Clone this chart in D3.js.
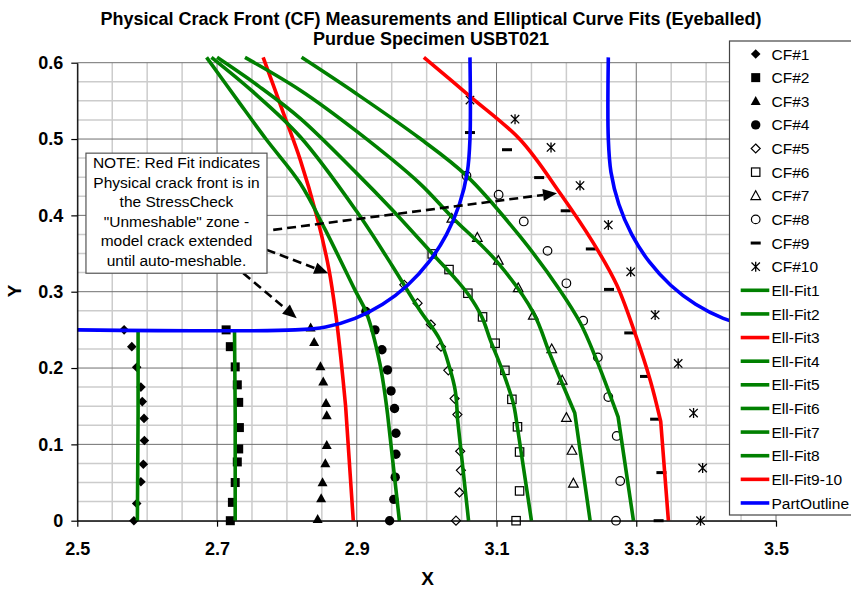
<!DOCTYPE html>
<html><head><meta charset="utf-8">
<script src="https://cdn.jsdelivr.net/npm/d3@7"></script>
<style>
body{margin:0;background:#fff}
svg{display:block}
text{font-family:Arial,"Liberation Sans",sans-serif;fill:#000}
</style>
</head><body>
<svg id="chart" width="851" height="590"></svg>
<script>
// ---------------- DATA ----------------
const titleLines = ["Physical Crack Front (CF) Measurements and Elliptical Curve Fits (Eyeballed)", "Purdue Specimen USBT021"];
const xAxisTitle = "X";
const yAxisTitle = "Y";
const xTickLabels = ["2.5","2.7","2.9","3.1","3.3","3.5"];
const yTickLabels = ["0","0.1","0.2","0.3","0.4","0.5","0.6"];

const cf1 = [[2.567,0.25],[2.578,0.228],[2.585,0.201],[2.591,0.175],[2.593,0.156],[2.5955,0.134],[2.596,0.105],[2.5945,0.074],[2.591,0.051],[2.585,0.0226],[2.581,0]];
const cf2 = [[2.713,0.25],[2.719,0.228],[2.726,0.2015],[2.729,0.178],[2.731,0.155],[2.732,0.122],[2.731,0.094],[2.729,0.077],[2.726,0.05],[2.722,0.024],[2.719,0]];
const cf3 = [[2.834,0.253],[2.839,0.234],[2.848,0.202],[2.852,0.182],[2.856,0.154],[2.857,0.138],[2.857,0.099],[2.855,0.075],[2.851,0.05],[2.849,0.029],[2.844,0.002]];
const cf4 = [[2.913,0.274],[2.926,0.25],[2.936,0.224],[2.944,0.1975],[2.949,0.17],[2.954,0.147],[2.956,0.1145],[2.956,0.087],[2.955,0.057],[2.953,0.028],[2.947,0]];
const cf5 = [[2.968,0.309],[2.987,0.285],[3.006,0.257],[3.0205,0.228],[3.031,0.197],[3.040,0.160],[3.044,0.139],[3.048,0.091],[3.049,0.066],[3.047,0.037],[3.042,0]];
const cf6 = [[3.008,0.3495],[3.032,0.329],[3.059,0.298],[3.080,0.267],[3.098,0.2325],[3.112,0.197],[3.122,0.159],[3.130,0.123],[3.133,0.090],[3.133,0.039],[3.128,0]];
const cf7 = [[3.036,0.396],[3.0725,0.371],[3.1026,0.341],[3.131,0.305],[3.1526,0.269],[3.179,0.225],[3.194,0.184],[3.200,0.135],[3.208,0.092],[3.210,0.049]];
const cf8 = [[3.057,0.452],[3.103,0.427],[3.139,0.392],[3.173,0.3535],[3.200,0.311],[3.224,0.262],[3.245,0.214],[3.260,0.162],[3.272,0.111],[3.277,0.052],[3.271,0]];
const cf9 = [[3.062,0.5085],[3.115,0.486],[3.161,0.4495],[3.199,0.406],[3.235,0.356],[3.261,0.303],[3.290,0.246],[3.3125,0.189],[3.327,0.133],[3.336,0.063],[3.332,0]];
const cf10 = [[3.062,0.551],[3.1265,0.526],[3.178,0.489],[3.2195,0.439],[3.260,0.3875],[3.292,0.326],[3.327,0.2696],[3.360,0.206],[3.382,0.141],[3.395,0.069],[3.392,0]];

const fit1 = [[2.587,0.25],[2.587,0.14],[2.586,0]];
const fit2 = [[2.725,0.25],[2.726,0.14],[2.726,0]];
const fit3 = [[2.766,0.607],[2.795,0.534],[2.819,0.473],[2.843,0.398],[2.860,0.33],[2.870,0.27],[2.878,0.206],[2.884,0.15],[2.895,0]];
const fit4 = [[2.685,0.607],[2.73,0.55],[2.77,0.50],[2.819,0.442],[2.855,0.381],[2.8975,0.302],[2.914,0.272],[2.933,0.206],[2.944,0.14],[2.961,0]];
const fit5 = [[2.692,0.607],[2.75,0.563],[2.819,0.503],[2.90,0.405],[2.95,0.335],[2.99,0.276],[3.019,0.237],[3.033,0.2],[3.041,0.17],[3.044,0.135],[3.06,0]];
const fit6 = [[2.70,0.607],[2.76,0.569],[2.819,0.527],[2.90,0.455],[2.95,0.408],[3.008,0.35],[3.043,0.315],[3.06,0.296],[3.079,0.267],[3.091,0.237],[3.11,0.193],[3.124,0.154],[3.127,0.14],[3.150,0]];
const fit7 = [[2.74,0.607],[2.819,0.564],[2.90,0.51],[2.99,0.442],[3.036,0.398],[3.10,0.34],[3.153,0.272],[3.177,0.217],[3.212,0.141],[3.234,0]];
const fit8 = [[2.821,0.607],[2.90,0.559],[2.99,0.501],[3.057,0.452],[3.134,0.372],[3.19,0.303],[3.22,0.259],[3.243,0.211],[3.274,0.136],[3.296,0]];
const fit9_10 = [[2.996,0.607],[3.062,0.556],[3.134,0.499],[3.191,0.429],[3.2385,0.364],[3.272,0.309],[3.298,0.246],[3.320,0.184],[3.335,0.13],[3.346,0]];

const partOutlineLeft = [[2.5,0.25],[2.812,0.25],[2.8554,0.2538],[2.8975,0.2651],[2.937,0.2835],[2.9727,0.3085],[3.0035,0.3393],[3.0285,0.375],[3.0469,0.4145],[3.0582,0.4566],[3.062,0.5],[3.062,0.607]];
const partOutlineRight = [[3.26,0.607],[3.26,0.5],[3.2638,0.4566],[3.2751,0.4145],[3.2935,0.375],[3.3185,0.3393],[3.3493,0.3085],[3.385,0.2835],[3.4245,0.2651],[3.4666,0.2538],[3.5,0.2502]];

const cfNames = ["CF#1","CF#2","CF#3","CF#4","CF#5","CF#6","CF#7","CF#8","CF#9","CF#10"];
const fitNames = ["Ell-Fit1","Ell-Fit2","Ell-Fit3","Ell-Fit4","Ell-Fit5","Ell-Fit6","Ell-Fit7","Ell-Fit8","Ell-Fit9-10","PartOutline"];

const noteLines = ["NOTE: Red Fit indicates","Physical crack front is in","the StressCheck","\"Unmeshable\" zone -","model crack extended","until auto-meshable."];
// arrows: [start, tip] in data units
const noteArrows = [[[2.7804,0.381],[3.1866,0.4291]],[[2.7711,0.3548],[2.8592,0.3242]],[[2.7376,0.3242],[2.814,0.2653]]];

// ---------------- STYLE / LAYOUT ----------------
const GREEN="#008000", RED="#FF0000", BLUE="#0000FF";
const cfData = [cf1,cf2,cf3,cf4,cf5,cf6,cf7,cf8,cf9,cf10];
const cfMarkers = ["diamondF","squareF","triangleF","circleF","diamondO","squareO","triangleO","circleO","dash","star"];
const fitData = [fit1,fit2,fit3,fit4,fit5,fit6,fit7,fit8,fit9_10];
const lineColors = [GREEN,GREEN,RED,GREEN,GREEN,GREEN,GREEN,GREEN,RED,BLUE];

const svg = d3.select("#chart");
const L=77.3, R=776, T=62.7, B=520.7;
const x = d3.scaleLinear().domain([2.5,3.5]).range([L,R]);
const y = d3.scaleLinear().domain([0,0.6]).range([B,T]);

// gridlines
const gGrid = svg.append("g");
const xMajor = xTickLabels.map(Number);
const yMajor = yTickLabels.map(Number);
const isMaj = (v,arr)=>arr.some(a=>Math.abs(a-v)<1e-6);
const xMinor = d3.range(0,21).map(i=>2.5+i*0.05).filter(v=>!isMaj(v,xMajor));
const yMinor = d3.range(0,25).map(i=>i*0.025).filter(v=>!isMaj(v,yMajor));
gGrid.selectAll(".vmin").data(xMinor).join("line")
  .attr("x1",d=>x(d)).attr("x2",d=>x(d)).attr("y1",T).attr("y2",B)
  .attr("stroke","#cccccc").attr("stroke-width",1.5);
gGrid.selectAll(".hmin").data(yMinor).join("line")
  .attr("x1",L).attr("x2",R).attr("y1",d=>y(d)).attr("y2",d=>y(d))
  .attr("stroke","#cccccc").attr("stroke-width",1.5);
gGrid.selectAll(".vmaj").data(xMajor).join("line")
  .attr("x1",d=>x(d)).attr("x2",d=>x(d)).attr("y1",T).attr("y2",B)
  .attr("stroke","#707070").attr("stroke-width",1);
gGrid.selectAll(".hmaj").data(yMajor).join("line")
  .attr("x1",L).attr("x2",R).attr("y1",d=>y(d)).attr("y2",d=>y(d))
  .attr("stroke","#707070").attr("stroke-width",1);

// marker drawing
function marker(g, type){
  switch(type){
    case "diamondF": return g.append("path").attr("d","M0,-4.8L4.8,0L0,4.8L-4.8,0Z").attr("fill","#000");
    case "squareF": return g.append("rect").attr("x",-4.5).attr("y",-4.5).attr("width",9).attr("height",9).attr("fill","#000");
    case "triangleF": return g.append("path").attr("d","M0,-5.2L5,3.8L-5,3.8Z").attr("fill","#000");
    case "circleF": return g.append("circle").attr("r",4.7).attr("fill","#000");
    case "diamondO": return g.append("path").attr("d","M0,-4.5L4.5,0L0,4.5L-4.5,0Z").attr("fill","none").attr("stroke","#000").attr("stroke-width",1.2);
    case "squareO": return g.append("rect").attr("x",-4.2).attr("y",-4.2).attr("width",8.4).attr("height",8.4).attr("fill","none").attr("stroke","#000").attr("stroke-width",1.2);
    case "triangleO": return g.append("path").attr("d","M0,-5L4.8,3.8L-4.8,3.8Z").attr("fill","none").attr("stroke","#000").attr("stroke-width",1.2);
    case "circleO": return g.append("circle").attr("r",4.3).attr("fill","none").attr("stroke","#000").attr("stroke-width",1.2);
    case "dash": return g.append("rect").attr("x",-5).attr("y",-1.5).attr("width",10).attr("height",3).attr("fill","#000");
    case "star": return g.append("path").attr("d","M-4.2,-4.2L4.2,4.2M-4.2,4.2L4.2,-4.2M0,-5L0,5").attr("fill","none").attr("stroke","#000").attr("stroke-width",1.3);
  }
}

// CF markers
const gPts = svg.append("g");
cfData.forEach((arr,si)=>{
  arr.forEach(p=>{
    const g = gPts.append("g").attr("transform",`translate(${x(p[0])},${y(p[1])})`);
    marker(g, cfMarkers[si]);
  });
});

// lines: smooth elliptical part, straight final segment to y=0
const smooth = d3.line().x(d=>x(d[0])).y(d=>y(d[1])).curve(d3.curveCatmullRom.alpha(0.5));
const straight = d3.line().x(d=>x(d[0])).y(d=>y(d[1]));
const gLines = svg.append("g");
function drawPath(d, color){
  gLines.append("path").attr("d",d).attr("fill","none")
    .attr("stroke",color).attr("stroke-width",3.6).attr("stroke-linejoin","round");
}
fitData.forEach((arr,i)=>{
  if(arr.length<=3){ drawPath(straight(arr), lineColors[i]); return; }
  drawPath(smooth(arr.slice(0,-1)) + straight(arr.slice(-2)).replace(/^M/,"L"), lineColors[i]);
});
drawPath(smooth(partOutlineLeft), BLUE);
drawPath(smooth(partOutlineRight), BLUE);

// axes
const fontTick = "bold 18px Arial, 'Liberation Sans', sans-serif";
const yAxis = d3.axisLeft(y).tickValues(yMajor).tickFormat((d,i)=>yTickLabels[i]).tickSizeInner(6).tickSizeOuter(0).tickPadding(8);
const xAxis = d3.axisBottom(x).tickValues(xMajor).tickFormat((d,i)=>xTickLabels[i]).tickSizeInner(6).tickSizeOuter(0).tickPadding(15.5);
const gy = svg.append("g").attr("transform",`translate(${L},0)`).call(yAxis);
const gx = svg.append("g").attr("transform",`translate(0,${B})`).call(xAxis);
[gx,gy].forEach(g=>{
  g.select(".domain").attr("stroke","#000").attr("stroke-width",1.2);
  g.selectAll(".tick line").attr("stroke","#000").attr("stroke-width",1.2);
  g.selectAll(".tick text").style("font",fontTick).attr("fill","#000");
});

// axis titles
svg.append("text").attr("x",427.5).attr("y",585).attr("text-anchor","middle")
  .style("font","bold 19px Arial, 'Liberation Sans', sans-serif").text(xAxisTitle);
svg.append("text").attr("transform","translate(21,291) rotate(-90)").attr("text-anchor","middle")
  .style("font","bold 19px Arial, 'Liberation Sans', sans-serif").text(yAxisTitle);

// title
svg.selectAll(".title").data(titleLines).join("text")
  .attr("x",431).attr("y",(d,i)=>25+i*19.5).attr("text-anchor","middle")
  .style("font","bold 18px Arial, 'Liberation Sans', sans-serif").text(d=>d);

// note arrows
const gArr = svg.append("g");
noteArrows.forEach(a=>{
  const x0=x(a[0][0]), y0=y(a[0][1]), x1=x(a[1][0]), y1=y(a[1][1]);
  const ang = Math.atan2(y1-y0,x1-x0);
  const hl=14, hw=6;
  const bx = x1-hl*Math.cos(ang), by = y1-hl*Math.sin(ang);
  gArr.append("line").attr("x1",x0).attr("y1",y0).attr("x2",bx).attr("y2",by)
    .attr("stroke","#000").attr("stroke-width",2.6).attr("stroke-dasharray","9,5");
  const px = -Math.sin(ang), py = Math.cos(ang);
  gArr.append("path").attr("d",`M${x1},${y1}L${bx+hw*px},${by+hw*py}L${bx-hw*px},${by-hw*py}Z`).attr("fill","#000");
});

// note box
const nb = {x0:x(2.5124), y0:y(0.4815), x1:x(2.7715), y1:y(0.3242)};
svg.append("rect").attr("x",nb.x0).attr("y",nb.y0).attr("width",nb.x1-nb.x0).attr("height",nb.y1-nb.y0)
  .attr("fill","#fff").attr("stroke","#555").attr("stroke-width",1.2);
svg.selectAll(".note").data(noteLines).join("text")
  .attr("x",(nb.x0+nb.x1)/2).attr("y",(d,i)=>nb.y0+15+i*19.5).attr("text-anchor","middle")
  .style("font","15.5px Arial, 'Liberation Sans', sans-serif").text(d=>d);

// legend
const lg = svg.append("g");
lg.append("rect").attr("x",729.5).attr("y",41).attr("width",130).attr("height",474)
  .attr("fill","#fff").attr("stroke","#444").attr("stroke-width",1.2);
const legendNames = cfNames.concat(fitNames);
legendNames.forEach((name,i)=>{
  const cy = 54 + i*23.63;
  if(i<10){
    const g = lg.append("g").attr("transform",`translate(755.7,${cy})`);
    marker(g, cfMarkers[i]);
  } else {
    lg.append("line").attr("x1",740.7).attr("x2",769.3).attr("y1",cy).attr("y2",cy)
      .attr("stroke",lineColors[i-10]).attr("stroke-width",3.6);
  }
  lg.append("text").attr("x",771.5).attr("y",cy+5.6)
    .style("font","15.5px Arial, 'Liberation Sans', sans-serif").text(name);
});
</script>
</body></html>
